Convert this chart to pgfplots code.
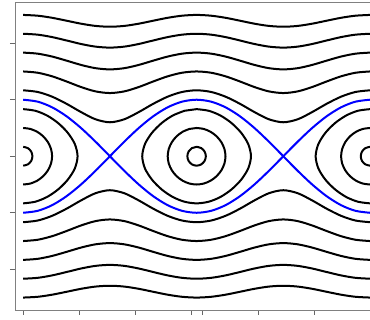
\documentclass[border=0pt]{standalone}
\usepackage{pgfplots}
\usepackage{pgfplotstable}
\pgfplotsset{compat=1.18}

% Rotating orbits of the pendulum, p(theta) for five energies above the separatrix
\pgfplotstableread{
t a b c d e
-6.2832 2.3333 3.0000 3.6667 4.3333 5.0000
-5.7596 2.2752 2.9550 3.6299 4.3023 4.9732
-5.2360 2.1082 2.8284 3.5277 4.2164 4.8990
-4.7124 1.8559 2.6458 3.3830 4.0961 4.7958
-4.1888 1.5635 2.4495 3.2318 3.9721 4.6904
-3.6652 1.3086 2.2952 3.1165 3.8789 4.6117
-3.1416 1.2019 2.2361 3.0732 3.8442 4.5826
-2.6180 1.3086 2.2952 3.1165 3.8789 4.6117
-2.0944 1.5635 2.4495 3.2318 3.9721 4.6904
-1.5708 1.8559 2.6458 3.3830 4.0961 4.7958
-1.0472 2.1082 2.8284 3.5277 4.2164 4.8990
-0.5236 2.2752 2.9550 3.6299 4.3023 4.9732
0.0000 2.3333 3.0000 3.6667 4.3333 5.0000
0.5236 2.2752 2.9550 3.6299 4.3023 4.9732
1.0472 2.1082 2.8284 3.5277 4.2164 4.8990
1.5708 1.8559 2.6458 3.3830 4.0961 4.7958
2.0944 1.5635 2.4495 3.2318 3.9721 4.6904
2.6180 1.3086 2.2952 3.1165 3.8789 4.6117
3.1416 1.2019 2.2361 3.0732 3.8442 4.5826
3.6652 1.3086 2.2952 3.1165 3.8789 4.6117
4.1888 1.5635 2.4495 3.2318 3.9721 4.6904
4.7124 1.8559 2.6458 3.3830 4.0961 4.7958
5.2360 2.1082 2.8284 3.5277 4.2164 4.8990
5.7596 2.2752 2.9550 3.6299 4.3023 4.9732
6.2832 2.3333 3.0000 3.6667 4.3333 5.0000
}\rot

\begin{document}
\begin{tikzpicture}
\path[use as bounding box] (0,0) rectangle (370pt,320pt);
\begin{axis}[
  at={(15pt,10pt)}, anchor=south west,
  scale only axis, width=355pt, height=307.5pt,
  xmin=-6.58, xmax=6.2832, ymin=-5.44, ymax=5.44,
  axis x line*=box, axis y line*=left,
  axis line style={black!50, line width=0.9pt},
  xtick={-6.28,-4.25,-2.22,-0.2,0.22,2.25,4.28},
  ytick={-4,-2,0,2,4},
  xticklabels={}, yticklabels={},
  xtick pos=bottom, ytick pos=left,
  tick align=outside, major tick length=5pt,
  tick style={black!60, line width=0.8pt},
  curve/.style={black, line width=2pt, smooth, no markers},
  sep/.style={blue, line width=2pt, smooth, no markers},
]
% rotating orbits, upper and lower branches
\foreach \c in {a,b,c,d,e}{
  \addplot[curve] table[x=t, y=\c]{\rot};
  \addplot[curve] table[x=t, y expr=-\thisrow{\c}]{\rot};
}

% librating orbits around theta = 0
\addplot[curve] coordinates {(0,0.3333)(0.1669,0.2887)(0.2897,0.1667)(0.3349,0)(0.2897,-0.1667)(0.1669,-0.2887)(0,-0.3333)(-0.1669,-0.2887)(-0.2897,-0.1667)(-0.3349,0)(-0.2897,0.1667)(-0.1669,0.2887)} -- cycle;
\addplot[curve] coordinates {(0,1)(0.2596,0.9659)(0.5054,0.8660)(0.7227,0.7071)(0.8957,0.5)(1.0081,0.2588)(1.0472,0)(1.0081,-0.2588)(0.8957,-0.5)(0.7227,-0.7071)(0.5054,-0.8660)(0.2596,-0.9659)(0,-1)(-0.2596,-0.9659)(-0.5054,-0.8660)(-0.7227,-0.7071)(-0.8957,-0.5)(-1.0081,-0.2588)(-1.0472,0)(-1.0081,0.2588)(-0.8957,0.5)(-0.7227,0.7071)(-0.5054,0.8660)(-0.2596,0.9659)} -- cycle;
\addplot[curve] coordinates {(0,1.6667)(0.4348,1.6099)(0.8596,1.4434)(1.2603,1.1785)(1.6125,0.8333)(1.8711,0.4314)(1.9702,0)(1.8711,-0.4314)(1.6125,-0.8333)(1.2603,-1.1785)(0.8596,-1.4434)(0.4348,-1.6099)(0,-1.6667)(-0.4348,-1.6099)(-0.8596,-1.4434)(-1.2603,-1.1785)(-1.6125,-0.8333)(-1.8711,-0.4314)(-1.9702,0)(-1.8711,0.4314)(-1.6125,0.8333)(-1.2603,1.1785)(-0.8596,1.4434)(-0.4348,1.6099)} -- cycle;

% librating orbits around theta = -2 pi (right halves)
\addplot[curve] coordinates {(-6.2832,0.3333)(-6.1163,0.2887)(-5.9935,0.1667)(-5.9483,0)(-5.9935,-0.1667)(-6.1163,-0.2887)(-6.2832,-0.3333)};
\addplot[curve] coordinates {(-6.2832,1)(-6.0236,0.9659)(-5.7778,0.8660)(-5.5605,0.7071)(-5.3875,0.5)(-5.2751,0.2588)(-5.2360,0)(-5.2751,-0.2588)(-5.3875,-0.5)(-5.5605,-0.7071)(-5.7778,-0.8660)(-6.0236,-0.9659)(-6.2832,-1)};
\addplot[curve] coordinates {(-6.2832,1.6667)(-5.8484,1.6099)(-5.4236,1.4434)(-5.0229,1.1785)(-4.6707,0.8333)(-4.4121,0.4314)(-4.3130,0)(-4.4121,-0.4314)(-4.6707,-0.8333)(-5.0229,-1.1785)(-5.4236,-1.4434)(-5.8484,-1.6099)(-6.2832,-1.6667)};

% librating orbits around theta = 2 pi (left halves)
\addplot[curve] coordinates {(6.2832,0.3333)(6.1163,0.2887)(5.9935,0.1667)(5.9483,0)(5.9935,-0.1667)(6.1163,-0.2887)(6.2832,-0.3333)};
\addplot[curve] coordinates {(6.2832,1)(6.0236,0.9659)(5.7778,0.8660)(5.5605,0.7071)(5.3875,0.5)(5.2751,0.2588)(5.2360,0)(5.2751,-0.2588)(5.3875,-0.5)(5.5605,-0.7071)(5.7778,-0.8660)(6.0236,-0.9659)(6.2832,-1)};
\addplot[curve] coordinates {(6.2832,1.6667)(5.8484,1.6099)(5.4236,1.4434)(5.0229,1.1785)(4.6707,0.8333)(4.4121,0.4314)(4.3130,0)(4.4121,-0.4314)(4.6707,-0.8333)(5.0229,-1.1785)(5.4236,-1.4434)(5.8484,-1.6099)(6.2832,-1.6667)};

% separatrix p = +-2|cos(theta/2)|
\addplot[sep] coordinates {(-6.2832,2)(-5.7596,1.9319)(-5.2360,1.7321)(-4.7124,1.4142)(-4.1888,1.0)(-3.6652,0.5176)(-3.1416,0)};
\addplot[sep] coordinates {(-3.1416,0)(-2.6180,0.5176)(-2.0944,1.0)(-1.5708,1.4142)(-1.0472,1.7321)(-0.5236,1.9319)(0,2)(0.5236,1.9319)(1.0472,1.7321)(1.5708,1.4142)(2.0944,1.0)(2.6180,0.5176)(3.1416,0)};
\addplot[sep] coordinates {(3.1416,0)(3.6652,0.5176)(4.1888,1.0)(4.7124,1.4142)(5.2360,1.7321)(5.7596,1.9319)(6.2832,2)};
\addplot[sep] coordinates {(-6.2832,-2)(-5.7596,-1.9319)(-5.2360,-1.7321)(-4.7124,-1.4142)(-4.1888,-1.0)(-3.6652,-0.5176)(-3.1416,0)};
\addplot[sep] coordinates {(-3.1416,0)(-2.6180,-0.5176)(-2.0944,-1.0)(-1.5708,-1.4142)(-1.0472,-1.7321)(-0.5236,-1.9319)(0,-2)(0.5236,-1.9319)(1.0472,-1.7321)(1.5708,-1.4142)(2.0944,-1.0)(2.6180,-0.5176)(3.1416,0)};
\addplot[sep] coordinates {(3.1416,0)(3.6652,-0.5176)(4.1888,-1.0)(4.7124,-1.4142)(5.2360,-1.7321)(5.7596,-1.9319)(6.2832,-2)};
\end{axis}
\end{tikzpicture}
\end{document}
